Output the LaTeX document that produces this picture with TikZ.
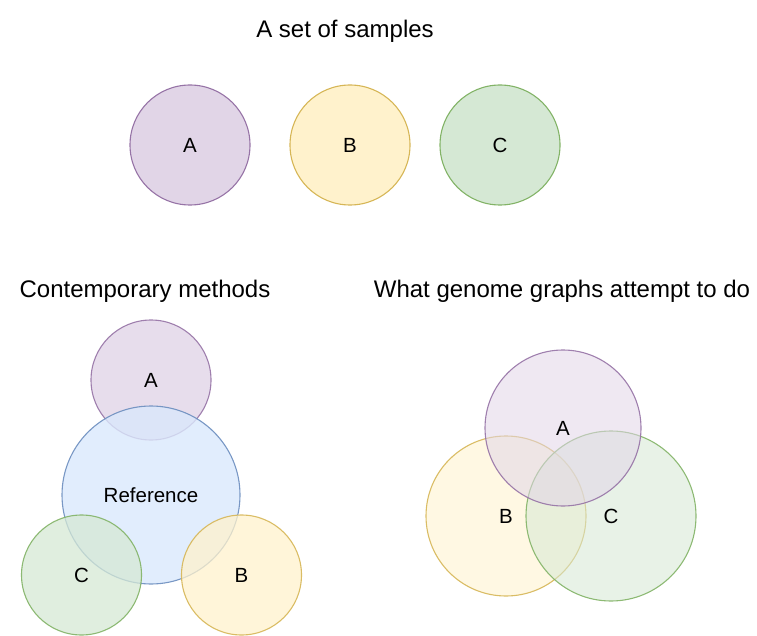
\documentclass[tikz,border=0pt]{standalone}
\usepackage{fontspec}
\setmainfont{Liberation Sans}
\definecolor{purplefill}{HTML}{E1D5E7}
\definecolor{purpleline}{HTML}{9673A6}
\definecolor{yellowfill}{HTML}{FFF2CC}
\definecolor{yellowline}{HTML}{D6B656}
\definecolor{greenfill}{HTML}{D5E8D4}
\definecolor{greenline}{HTML}{82B366}
\definecolor{bluefill}{HTML}{DAE8FC}
\definecolor{blueline}{HTML}{6C8EBF}
\tikzset{
	sample/.style={circle, draw, line width=1.1pt, inner sep=0pt, text opacity=1,
		font=\fontsize{20.5}{24}\selectfont},
	title/.style={font=\fontsize{24}{28}\selectfont, inner sep=0pt},
	samplea/.style={sample, fill=purplefill, draw=purpleline},
	sampleb/.style={sample, fill=yellowfill, draw=yellowline},
	samplec/.style={sample, fill=greenfill, draw=greenline},
	reference/.style={sample, fill=bluefill, draw=blueline}
}

\begin{document}
\begin{tikzpicture}[x=1pt, y=-1pt]
		%%%%% START %%%%%
		\useasboundingbox (0, 0) rectangle (757, 636);
		
		% the samples
		\node[title] (settitle) at (345, 31) {A set of samples};
		\node[samplea, minimum size=120pt] (topa) at (190, 145) {A};
		\node[sampleb, minimum size=120pt] (topb) at (350, 145) {B};
		\node[samplec, minimum size=120pt] (topc) at (500, 145) {C};
		
		% contemporary methods
		\node[title] (conttitle) at (145, 291) {Contemporary methods};
		\node[samplea, fill opacity=0.8, draw opacity=0.9, minimum size=120pt] (conta) at (151, 380) {A};
		\node[reference, fill opacity=0.8, draw opacity=0.9, minimum size=178pt] (contref) at (151, 495) {Reference};
		\node[samplec, fill opacity=0.75, draw opacity=0.9, minimum size=120pt] (contc) at (81.5, 575) {C};
		\node[sampleb, fill opacity=0.75, draw opacity=0.9, minimum size=120pt] (contb) at (241.5, 575) {B};
		
		% genome graphs
		\node[title] (graphtitle) at (562, 291) {What genome graphs attempt to do};
		\node[sampleb, fill opacity=0.55, draw opacity=0.9, minimum size=160pt] (graphb) at (506, 516) {B};
		\node[samplec, fill opacity=0.55, draw opacity=0.9, minimum size=170pt] (graphc) at (611, 516) {C};
		\node[samplea, fill opacity=0.55, draw opacity=0.9, minimum size=156pt] (grapha) at (563, 428) {A};
		%%%%% END %%%%%
	\end{tikzpicture}
\end{document}
